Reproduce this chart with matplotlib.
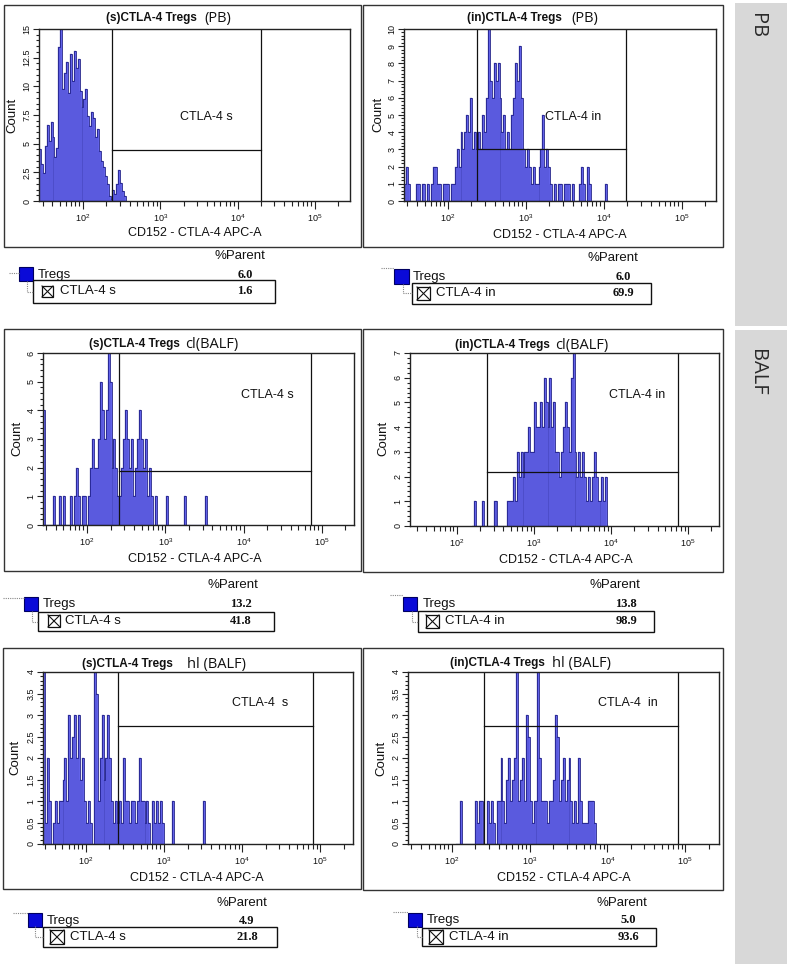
import numpy as np
import matplotlib
matplotlib.use('Agg')
import matplotlib.pyplot as plt
from matplotlib.patches import Rectangle
from matplotlib.ticker import FixedLocator, MultipleLocator, FuncFormatter, NullFormatter

plt.rcParams['font.family'] = ['Liberation Sans', 'DejaVu Sans']
plt.rcParams['mathtext.fontset'] = 'custom'
plt.rcParams['mathtext.rm'] = 'Liberation Sans'
plt.rcParams['mathtext.it'] = 'Liberation Sans:italic'
plt.rcParams['mathtext.bf'] = 'Liberation Sans:bold'

W, H = 787, 964

# ---------------- data ----------------
bin_width = 0.025  # histogram bin width in log10 decades

pb_s_start = 1.431
pb_s_counts = [4.5, 3.2, 2.4, 4.8, 6.6, 5.2, 6.9, 5.6, 3.8, 4.6, 13.4, 15.5, 9.8, 11.2, 12.1,
               9.4, 12.8, 10.5, 13.1, 11.6, 12.4, 9.6, 8.2, 8.9, 9.8, 7.4, 6.5, 7.8, 7.2, 5.6,
               6.3, 4.4, 3.5, 3.0, 2.2, 1.5, 0.4, 0.2, 1.0, 0.6, 1.5, 2.7, 1.6, 0.9, 0.4]

pb_in_start = 1.436
pb_in_counts = [1, 2, 1, 0, 0, 0, 1, 1, 0, 1,
                1, 0, 1, 0, 1, 2, 2, 1, 1, 0,
                1, 1, 1, 0, 1, 1, 2, 3, 2, 4,
                3, 4, 5, 4, 6, 3, 4, 3, 4, 3,
                5, 4, 6, 11, 7, 6, 8, 7, 8, 6,
                4, 5, 3, 4, 3, 5, 6, 8, 7, 9,
                6, 3, 2, 3, 2, 1, 2, 1, 1, 2,
                3, 5, 2, 3, 2, 1, 0, 1, 0, 1,
                1, 0, 1, 1, 1, 0, 1, 0, 0, 0,
                1, 2, 1, 0, 2, 1, 0, 0, 0, 0,
                0, 0, 0, 1, 0]

cl_s_start = 1.438
cl_s_counts = [4, 0, 0, 0, 0, 1, 0, 0, 1, 0,
               1, 0, 0, 0, 1, 0, 1, 2, 1, 0,
               1, 1, 0, 1, 2, 3, 2, 2, 3, 5,
               4, 3, 4, 7, 5, 2, 3, 2, 1, 1,
               2, 3, 4, 3, 2, 3, 1, 2, 3, 4,
               3, 2, 3, 1, 2, 1, 0, 1, 0, 0,
               0, 0, 0, 1, 0, 0, 0, 0, 0, 0,
               0, 0, 1, 0, 0, 0, 0, 0, 0, 0,
               0, 0, 0, 1, 0]

cl_in_start = 2.20
cl_in_counts = [0, 1, 0, 0, 0, 1, 0, 0, 0, 0,
                0, 1, 1, 0, 0, 0, 0, 0, 1, 1,
                1, 2, 1, 3, 2, 3, 2, 3, 3, 4,
                3, 3, 5, 4, 4, 5, 4, 6, 5, 4,
                6, 4, 5, 3, 3, 2, 3, 4, 5, 4,
                3, 6, 8, 3, 2, 3, 2, 3, 2, 1,
                2, 1, 2, 3, 2, 1, 1, 2, 1, 2, 0]

hl_s_start = 1.45
hl_s_counts = [4, 0.5, 2, 1, 0, 0.5, 1, 0.5, 1, 1,
               1.5, 2, 1, 3, 2, 2.5, 3, 2, 3, 1.5,
               2, 1, 0.5, 1, 0.5, 0, 4, 3.5, 1, 2,
               3, 1.5, 2, 3, 2, 1, 0.5, 1, 0.5, 1,
               0.5, 2, 1, 1, 0.5, 1, 1, 0.5, 1, 2,
               1, 1, 0.5, 1, 0.5, 0, 1, 0.5, 1, 0.5,
               1, 0.5, 0, 0, 0, 0, 1, 0, 0, 0,
               0, 0, 0, 0, 0, 0, 0, 0, 0, 0,
               0, 0, 1, 0]

hl_in_start = 2.05
hl_in_counts = [0, 0, 1, 0, 0, 0, 0, 0, 0, 0,
                1, 0.5, 1, 1, 0, 0, 1, 0.5, 1, 0.5,
                0, 1, 1, 2, 1, 0.5, 1.5, 2, 1, 1.5,
                2, 4, 1, 1.5, 2, 1, 3, 2.5, 1, 0.5,
                1, 1, 4, 2, 1, 1, 1, 0.5, 1, 1,
                1.5, 3, 2.5, 1, 1.5, 2, 1, 1.5, 2, 1,
                0.5, 1, 0.5, 2, 1, 0.5, 0.5, 0.5, 1, 1,
                1, 0.5, 0]

# gates (log10 of lower / upper CD152 bound, count level of marker line)
gate_low = [2.375, 2.372, 2.41, 2.39, 2.41, 2.41]
gate_high = [4.303, 4.28, 4.86, 4.87, 4.91, 4.91]
gate_level = [4.45, 3.0, 1.9, 2.2, 2.74, 2.74]
gate_labels = ['CTLA-4 s', 'CTLA-4 in', 'CTLA-4 s', 'CTLA-4 in', 'CTLA-4  s', 'CTLA-4  in']
gate_names = ['CTLA-4 s', 'CTLA-4 in', 'CTLA-4 s', 'CTLA-4 in', 'CTLA-4 s', 'CTLA-4 in']

title_bold = ['(s)CTLA-4 Tregs', '(in)CTLA-4 Tregs', '(s)CTLA-4 Tregs',
              '(in)CTLA-4 Tregs', '(s)CTLA-4 Tregs', '(in)CTLA-4 Tregs']
title_plain = ['(PB)', '(PB)', 'cl(BALF)', 'cl(BALF)', 'hl (BALF)', 'hl (BALF)']

y_max = [15, 10, 6, 7, 4, 4]
y_major = [2.5, 1, 1, 1, 0.5, 0.5]
y_minor = [0.5, 0.2, 0.2, 0.2, 0.1, 0.1]

tregs_pct = ['6.0', '6.0', '13.2', '13.8', '4.9', '5.0']
gate_pct = ['1.6', '69.9', '41.8', '98.9', '21.8', '93.6']

x_label = 'CD152 - CTLA-4 APC-A'
y_label = 'Count'
x_tick_decades = [2, 3, 4, 5]
side_labels = ['PB', 'BALF']

hist_starts = [pb_s_start, pb_in_start, cl_s_start, cl_in_start, hl_s_start, hl_in_start]
hist_counts = [pb_s_counts, pb_in_counts, cl_s_counts, cl_in_counts, hl_s_counts, hl_in_counts]

# ---------------- layout (pixels) ----------------
layout = [
    dict(ax=(39, 29, 350, 201), xl=(1.431, 5.454), box=(4, 5, 361, 247), tb=197, ty=18, tp=204,
         xlab=(195, 233), ylab=(12, 115), glab=(3.60, 7.33, 'center'),
         hdr=(240, 256), sq=(19, 267, 14), tregs=(38, 275), vx=245, lbox=(33, 280, 275, 303),
         chk=(42, 286, 11), gx=60, dots=[[(9, 273), (19, 273)], [(27, 281), (27, 292), (33, 292)]]),
    dict(ax=(404, 29, 716, 201), xl=(1.436, 5.436), box=(363, 5, 723, 247), tb=562, ty=18, tp=571,
         xlab=(560, 235), ylab=(378, 114), glab=(3.245, 4.9, 'left'),
         hdr=(613, 258), sq=(394, 269, 15), tregs=(413, 277), vx=623, lbox=(412, 283, 651, 304),
         chk=(417, 287, 13), gx=436, dots=[[(381, 268), (394, 268)], [(403, 284), (403, 293), (412, 293)]]),
    dict(ax=(43, 353, 354, 525), xl=(1.438, 5.41), box=(4, 329, 361, 571), tb=180, ty=344, tp=185,
         xlab=(195, 559), ylab=(17, 438), glab=(4.31, 4.53, 'center'),
         hdr=(233, 585), sq=(24, 597, 14), tregs=(43, 604), vx=241, lbox=(38, 612, 274, 631),
         chk=(48, 615, 12), gx=65, dots=[[(3, 598), (24, 598)], [(32, 611), (32, 622), (38, 622)]]),
    dict(ax=(410, 353, 719, 526), xl=(1.39, 5.40), box=(363, 329, 723, 572), tb=550, ty=345, tp=555,
         xlab=(566, 560), ylab=(383, 438), glab=(4.34, 5.3, 'center'),
         hdr=(615, 585), sq=(403, 597, 14), tregs=(423, 604), vx=626, lbox=(418, 611, 654, 632),
         chk=(426, 615, 13), gx=445, dots=[[(390, 595), (403, 595)], [(412, 611), (412, 622), (418, 622)]]),
    dict(ax=(43, 672, 353, 844), xl=(1.45, 5.42), box=(3, 648, 361, 889), tb=173, ty=664, tp=187,
         xlab=(197, 878), ylab=(15, 757), glab=(4.23, 3.28, 'center'),
         hdr=(242, 903), sq=(28, 913, 14), tregs=(47, 921), vx=247, lbox=(43, 927, 277, 947),
         chk=(50, 930, 14), gx=70, dots=[[(13, 913), (28, 913)], [(35, 926), (35, 937), (43, 937)]]),
    dict(ax=(408, 672, 719, 844), xl=(1.434, 5.436), box=(363, 648, 723, 890), tb=545, ty=663, tp=552,
         xlab=(564, 878), ylab=(381, 758), glab=(4.26, 3.28, 'center'),
         hdr=(622, 903), sq=(408, 913, 14), tregs=(427, 920), vx=628, lbox=(422, 928, 656, 946),
         chk=(429, 930, 14), gx=449, dots=[[(393, 912), (408, 912)], [(417, 926), (417, 937), (422, 937)]]),
]

FILL = '#6b6bf6'
EDGE = '#20208a'

fig = plt.figure(figsize=(W / 100, H / 100), dpi=100)
fig.patch.set_facecolor('white')

# overlay in pixel coordinates
ov = fig.add_axes([0, 0, 1, 1])
ov.set_xlim(0, W)
ov.set_ylim(H, 0)
ov.axis('off')

# gray side strip
ov.add_patch(Rectangle((735, 3), 52, 323, facecolor='#d8d8d8', edgecolor='none'))
ov.add_patch(Rectangle((735, 330), 52, 634, facecolor='#d8d8d8', edgecolor='none'))
ov.text(757, 26, side_labels[0], rotation=270, ha='center', va='center',
        fontsize=14.5, family=['Open Sans', 'DejaVu Sans'], color='#2a2a2a')
ov.text(757, 372, side_labels[1], rotation=270, ha='center', va='center',
        fontsize=14.5, family=['Open Sans', 'DejaVu Sans'], color='#2a2a2a')

for i, L in enumerate(layout):
    # panel frame
    bl, bt, br, bb = L['box']
    ov.add_patch(Rectangle((bl, bt), br - bl, bb - bt, fill=False, edgecolor='#333333', lw=1.0))
    # title
    ov.text(L['tb'], L['ty'], title_bold[i], ha='right', va='center', fontsize=8.5,
            fontweight='bold', color='#111')
    ov.text(L['tp'], L['ty'] + 0.5, title_plain[i], ha='left', va='center', fontsize=10.5,
            family=['Open Sans', 'DejaVu Sans'], color='#111')
    # axis labels
    ov.text(L['xlab'][0], L['xlab'][1], x_label, ha='center', va='center', fontsize=9, color='#111')
    ov.text(L['ylab'][0], L['ylab'][1], y_label, ha='center', va='center', fontsize=9.5,
            rotation=90, color='#111')
    # legend / statistics table
    ov.text(L['hdr'][0], L['hdr'][1], '%Parent', ha='center', va='center', fontsize=9.5, color='#111')
    sx, sy, ss = L['sq']
    ov.add_patch(Rectangle((sx, sy), ss, ss, facecolor='#0a0ad8', edgecolor='#000060', lw=0.8))
    ov.text(L['tregs'][0], L['tregs'][1], 'Tregs', ha='left', va='center', fontsize=9.5, color='#111')
    ov.text(L['vx'], L['tregs'][1], tregs_pct[i], ha='center', va='center', fontsize=9,
            family=['Liberation Serif', 'DejaVu Serif'], fontweight='bold', color='#111')
    lx0, ly0, lx1, ly1 = L['lbox']
    ov.add_patch(Rectangle((lx0, ly0), lx1 - lx0, ly1 - ly0, fill=False, edgecolor='#111', lw=1.0))
    cy = (ly0 + ly1) / 2
    cx, cyy, cs = L['chk']
    ov.add_patch(Rectangle((cx, cyy), cs, cs, fill=False, edgecolor='#111', lw=0.9))
    ov.plot([cx, cx + cs], [cyy, cyy + cs], color='#111', lw=0.8)
    ov.plot([cx, cx + cs], [cyy + cs, cyy], color='#111', lw=0.8)
    ov.text(L['gx'], cy, gate_names[i], ha='left', va='center', fontsize=9.5, color='#111')
    ov.text(L['vx'], cy, gate_pct[i], ha='center', va='center', fontsize=9,
            family=['Liberation Serif', 'DejaVu Serif'], fontweight='bold', color='#111')
    for pts in L['dots']:
        xs = [p[0] for p in pts]
        ys = [p[1] for p in pts]
        ov.plot(xs, ys, color='#888888', lw=0.8, ls=(0, (1, 1)))

    # data axes
    al, at, ar, ab = L['ax']
    ax = fig.add_axes([al / W, 1 - ab / H, (ar - al) / W, (ab - at) / H])
    ax.set_xscale('log')
    ax.set_xlim(10 ** L['xl'][0], 10 ** L['xl'][1])
    ax.set_ylim(0, y_max[i])

    counts = np.asarray(hist_counts[i], dtype=float)
    edges = 10 ** (hist_starts[i] + bin_width * np.arange(len(counts) + 1))
    ax.stairs(counts, edges, fill=True, color=FILL, lw=0)
    ax.bar(edges[:-1], counts, width=np.diff(edges), align='edge', color='none',
           edgecolor=EDGE, lw=0.2, alpha=0.8)
    ax.stairs(counts, edges, color=EDGE, lw=0.6)

    # gate
    g0, g1, gy = 10 ** gate_low[i], 10 ** gate_high[i], gate_level[i]
    ax.axvline(g0, color='#111', lw=0.9)
    ax.axvline(g1, color='#111', lw=0.9)
    ax.plot([g0, g1], [gy, gy], color='#111', lw=0.9)
    gxl, gyl, gha = L['glab']
    ax.text(10 ** gxl, gyl, gate_labels[i], ha=gha, va='center', fontsize=9, color='#111')

    # ticks
    ax.xaxis.set_major_locator(FixedLocator([10.0 ** d for d in x_tick_decades]))
    ax.xaxis.set_minor_locator(FixedLocator([m * 10.0 ** k for k in range(1, 6) for m in range(2, 10)]))
    ax.xaxis.set_major_formatter(FuncFormatter(lambda v, p: r'$\mathregular{10^{%d}}$' % round(np.log10(v))))
    ax.xaxis.set_minor_formatter(NullFormatter())
    ax.yaxis.set_major_locator(MultipleLocator(y_major[i]))
    ax.yaxis.set_minor_locator(MultipleLocator(y_minor[i]))
    ax.yaxis.set_major_formatter(FuncFormatter(lambda v, p: '%g' % v))
    ax.tick_params(axis='both', which='both', direction='out', width=0.8, labelsize=6.5,
                   color='#222', labelcolor='#111')
    ax.tick_params(axis='x', which='major', length=5.5, pad=2.5)
    ax.tick_params(axis='x', which='minor', length=3.5)
    ax.tick_params(axis='y', which='major', length=4, pad=1.5, labelrotation=90)
    ax.tick_params(axis='y', which='minor', length=2)
    for lab in ax.get_yticklabels():
        lab.set_va('center')
    for s in ax.spines.values():
        s.set_linewidth(1.0)
        s.set_color('#222')

fig.savefig('out.png', dpi=100)
